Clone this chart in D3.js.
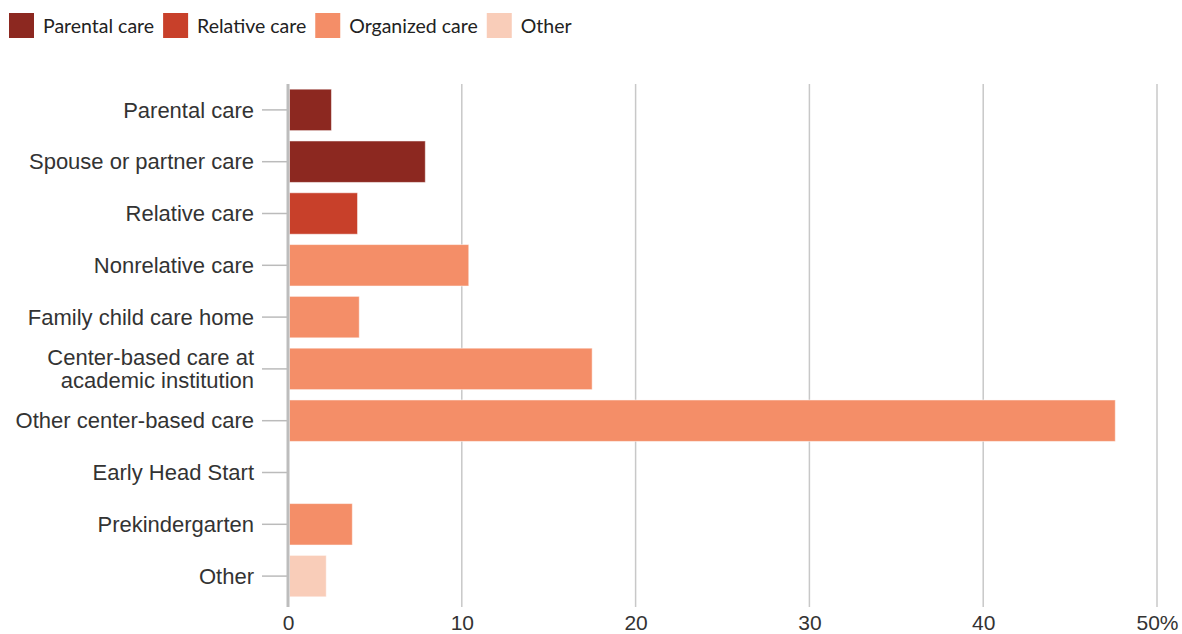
<!DOCTYPE html>
<html>
<head>
<meta charset="utf-8">
<script src="https://cdn.jsdelivr.net/npm/d3@7"></script>
<style>
  html, body { margin: 0; padding: 0; background: #fff; }
  svg { display: block; font-family: "Lato", "Noto Sans", sans-serif; }
</style>
</head>
<body>
<svg id="chart" width="1182" height="634"></svg>
<script>
// Share of children by primary care arrangement (percent)
const categories = [
  "Parental care",
  "Spouse or partner care",
  "Relative care",
  "Nonrelative care",
  "Family child care home",
  "Center-based care at|academic institution",
  "Other center-based care",
  "Early Head Start",
  "Prekindergarten",
  "Other"
];
const values = [2.5, 7.9, 4.0, 10.4, 4.1, 17.5, 47.6, 0, 3.7, 2.2];
const groups = [
  "Parental care", "Parental care", "Relative care",
  "Organized care", "Organized care", "Organized care", "Organized care",
  "Organized care", "Organized care", "Other"
];
const legendGroups = ["Parental care", "Relative care", "Organized care", "Other"];
const groupColors = ["#8c2820", "#c8402a", "#f48e68", "#f9cdb9"];
const xTicks = [0, 10, 20, 30, 40, 50];

const svg = d3.select("#chart");
const margin = { top: 84, right: 25, bottom: 32, left: 288 };
const width = 1182, height = 634;

const x = d3.scaleLinear().domain([0, 50]).range([margin.left, width - margin.right]);
const y = d3.scaleBand().domain(categories).range([margin.top, height - margin.bottom]).paddingInner(0.2).paddingOuter(0.1);
const color = d3.scaleOrdinal().domain(legendGroups).range(groupColors);

// vertical gridlines
const gridTop = margin.top;
const gridBottom = height - margin.bottom + 5;
svg.append("g").selectAll("line")
  .data(xTicks.filter(d => d > 0))
  .join("line")
  .attr("x1", d => x(d)).attr("x2", d => x(d))
  .attr("y1", gridTop).attr("y2", gridBottom)
  .attr("stroke", "#c8c8c8").attr("stroke-width", 1.5);

// x tick labels
const xAxis = d3.axisBottom(x).tickValues(xTicks).tickSize(0).tickPadding(0)
  .tickFormat(d => d === 50 ? d + "%" : d);
const gx = svg.append("g").attr("transform", `translate(0,${height - 4})`).call(xAxis);
gx.select(".domain").remove();
gx.selectAll("text").attr("y", 0).attr("dy", 0).attr("fill", "#333").style("font-size", "21px");

// bars
svg.append("g").selectAll("rect")
  .data(categories.map((c, i) => ({ c, v: values[i], g: groups[i] })))
  .join("rect")
  .attr("x", x(0) + 1.5)
  .attr("y", d => y(d.c))
  .attr("width", d => Math.max(0, x(d.v) - x(0) - 1.5))
  .attr("height", y.bandwidth())
  .attr("fill", d => color(d.g))
  .attr("stroke", "rgba(255,255,255,0.5)")
  .attr("stroke-width", 1);

// y axis with category labels
const yAxis = d3.axisLeft(y).tickSize(26).tickPadding(8).tickFormat("");
const gy = svg.append("g").attr("transform", `translate(${x(0)},0)`).call(yAxis);
gy.select(".domain").remove();
gy.selectAll(".tick line").attr("stroke", "#bbb").attr("stroke-width", 1.5);
gy.selectAll(".tick").each(function (d) {
  const parts = d.split("|");
  const t = d3.select(this).append("text")
    .attr("x", -34).attr("text-anchor", "end").attr("fill", "#333")
    .style("font-size", "22px");
  parts.forEach((p, i) => {
    t.append("tspan").attr("x", -34)
      .attr("dy", i === 0 ? (parts.length === 1 ? "0.35em" : "-0.17em") : "1.05em")
      .text(p);
  });
});

// zero baseline
svg.append("line")
  .attr("x1", x(0)).attr("x2", x(0))
  .attr("y1", gridTop).attr("y2", gridBottom)
  .attr("stroke", "#bdbdbd").attr("stroke-width", 3);

// legend
const legend = svg.append("g").attr("transform", "translate(9,13)");
let lx = 0;
legendGroups.forEach((g, i) => {
  const item = legend.append("g").attr("transform", `translate(${lx},0)`);
  item.append("rect").attr("width", 25).attr("height", 25).attr("fill", groupColors[i]);
  const txt = item.append("text").attr("x", 34).attr("y", 12.5).attr("dy", "0.36em")
    .attr("fill", "#222").style("font-size", "19.5px").text(g);
  lx += 34 + txt.node().getComputedTextLength() + 9;
});
</script>
</body>
</html>
